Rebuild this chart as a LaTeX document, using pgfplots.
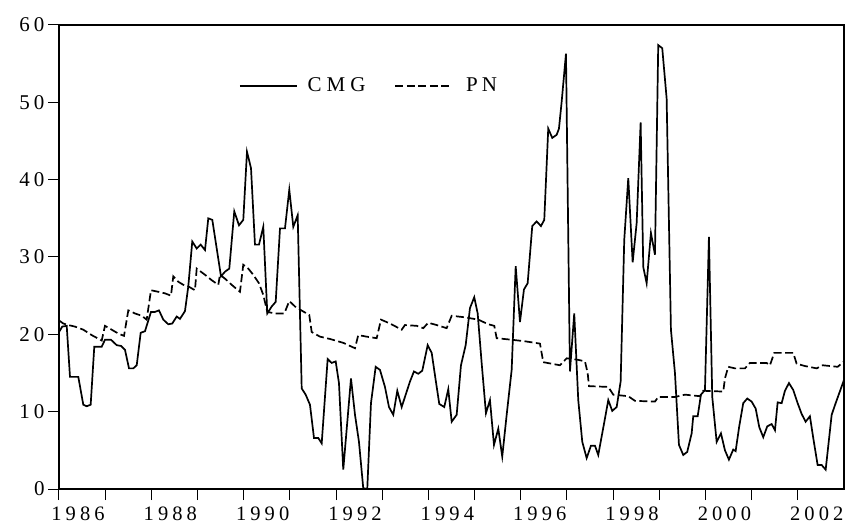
\documentclass[border=0pt]{standalone}
\usepackage{fontspec}
\setmainfont[LetterSpace=20]{Liberation Serif}
\usepackage{pgfplots}
\pgfplotsset{compat=1.18}
\newcommand{\yr}[1]{\hspace*{38bp}#1}
\begin{document}
\begin{tikzpicture}
\path[use as bounding box] (-59bp,-34bp) rectangle (786bp,489bp);
\begin{axis}[
  at={(0,0)}, anchor=south west,
  scale only axis, width=785bp, height=464bp,
  xmin=1986, xmax=2003, ymin=0, ymax=60,
  xtick={1986,...,2002},
  xticklabels={\yr{1986},,\yr{1988},,\yr{1990},,\yr{1992},,\yr{1994},,\yr{1996},,\yr{1998},,\yr{2000},,\yr{2002}},
  minor x tick num=5,
  ytick={0,10,...,60},
  xtick pos=bottom, ytick pos=left,
  tick align=outside,
  major tick length=11bp, minor tick length=5bp,
  tick style={black, line width=1bp},
  axis line style={line width=1.2bp},
  /pgf/number format/assume math mode=true,
  tick label style={font=\fontsize{21bp}{24bp}\selectfont},
  every x tick label/.append style={inner sep=0pt, font=\fontsize{20.5bp}{23bp}\selectfont},
  xticklabel shift=7bp,
  yticklabel shift=0bp,
  legend style={draw=none, fill=none, at={(0.229,0.869)}, anchor=west,
    inner sep=0pt, legend columns=2,
    font=\fontsize{21bp}{24bp}\selectfont,
    /tikz/every odd column/.append style={column sep=8bp},
    /tikz/every even column/.append style={column sep=27bp}},
  legend image code/.code={\draw[#1] (0bp,0bp) -- (57bp,0bp);},
]
\addplot[black, line width=1.7bp] coordinates {
(1986.000,20.3)(1986.071,21.0)(1986.167,21.1)(1986.238,14.5)(1986.418,14.5)
(1986.526,10.9)(1986.600,10.7)(1986.686,10.9)(1986.764,18.4)(1986.925,18.4)
(1986.996,19.3)(1987.126,19.3)(1987.249,18.6)(1987.343,18.5)(1987.429,18.0)
(1987.516,15.6)(1987.609,15.6)(1987.683,16.0)(1987.769,20.2)(1987.862,20.4)
(1987.992,22.9)(1988.079,22.9)(1988.165,23.1)(1988.259,21.9)(1988.367,21.3)
(1988.453,21.4)(1988.549,22.3)(1988.620,22.0)(1988.728,23.0)(1988.800,26.2)
(1988.886,32.0)(1988.982,31.1)(1989.068,31.6)(1989.162,30.9)(1989.233,35.0)
(1989.320,34.8)(1989.508,27.5)(1989.595,28.1)(1989.688,28.5)(1989.796,35.9)
(1989.898,34.1)(1989.991,34.8)(1990.071,43.6)(1990.158,41.5)(1990.244,31.6)
(1990.331,31.6)(1990.424,33.9)(1990.511,22.7)(1990.606,23.6)(1990.693,24.2)
(1990.786,33.7)(1990.894,33.7)(1990.987,38.7)(1991.074,33.9)(1991.169,35.4)
(1991.256,13.0)(1991.342,12.2)(1991.435,10.9)(1991.522,6.6)(1991.615,6.6)
(1991.689,5.9)(1991.818,16.8)(1991.905,16.3)(1991.992,16.5)(1992.063,13.7)
(1992.156,2.5)(1992.323,14.3)(1992.410,9.6)(1992.496,6.1)(1992.589,0.1)
(1992.676,0.0)(1992.756,11.1)(1992.858,15.8)(1992.951,15.4)(1993.059,13.2)
(1993.146,10.6)(1993.239,9.6)(1993.326,12.7)(1993.421,10.6)(1993.508,12.2)
(1993.601,13.9)(1993.687,15.2)(1993.780,14.9)(1993.867,15.3)(1993.984,18.6)
(1994.071,17.6)(1994.157,14.1)(1994.235,11.0)(1994.343,10.6)(1994.430,12.9)
(1994.504,8.7)(1994.612,9.6)(1994.705,16.0)(1994.807,18.6)(1994.900,23.4)
(1994.993,24.8)(1995.067,22.7)(1995.153,16.3)(1995.246,9.8)(1995.333,11.5)
(1995.420,5.7)(1995.513,7.8)(1995.599,4.2)(1995.695,9.6)(1995.803,15.4)
(1995.890,28.8)(1995.983,21.6)(1996.069,25.8)(1996.149,26.6)(1996.249,34.0)
(1996.344,34.6)(1996.437,34.0)(1996.509,34.8)(1996.595,46.6)(1996.682,45.4)
(1996.777,45.8)(1996.827,46.6)(1996.886,50.1)(1996.979,56.3)(1997.065,15.2)
(1997.158,22.7)(1997.245,11.5)(1997.332,6.1)(1997.427,4.0)(1997.520,5.6)
(1997.607,5.6)(1997.678,4.4)(1997.752,6.8)(1997.823,9.1)(1997.895,11.5)
(1997.981,10.1)(1998.077,10.6)(1998.163,13.9)(1998.241,32.2)(1998.328,40.2)
(1998.423,29.3)(1998.510,34.4)(1998.596,47.4)(1998.653,28.7)(1998.726,26.6)
(1998.819,33.1)(1998.906,30.3)(1998.977,57.4)(1999.064,57.0)(1999.159,50.5)
(1999.252,20.6)(1999.339,15.0)(1999.426,5.7)(1999.519,4.4)(1999.605,4.8)
(1999.701,7.2)(1999.735,9.4)(1999.831,9.4)(1999.902,12.2)(1999.989,12.8)
(2000.075,32.6)(2000.147,11.9)(2000.242,6.1)(2000.335,7.2)(2000.422,5.0)
(2000.508,3.8)(2000.601,5.1)(2000.653,4.9)(2000.731,8.1)(2000.818,11.1)
(2000.905,11.7)(2001.000,11.3)(2001.087,10.4)(2001.165,8.0)(2001.251,6.7)
(2001.338,8.1)(2001.433,8.4)(2001.505,7.6)(2001.563,11.2)(2001.650,11.1)
(2001.721,12.7)(2001.808,13.7)(2001.901,12.8)(2001.996,11.1)(2002.083,9.7)
(2002.169,8.7)(2002.262,9.4)(2002.334,6.6)(2002.429,3.1)(2002.516,3.1)
(2002.603,2.5)(2002.733,9.6)(2002.819,11.1)(2003.000,14.1)
};
\addlegendentry{C\kern5bp M\kern5bp G}
\addplot[black, line width=1.7bp, dash pattern=on 8bp off 3.5bp] coordinates {
(1986.000,21.8)(1986.093,21.4)(1986.201,21.2)(1986.346,21.0)(1986.526,20.6)
(1986.708,19.9)(1986.925,19.2)(1986.996,21.1)(1987.141,20.6)(1987.284,20.1)
(1987.408,19.8)(1987.501,23.1)(1987.646,22.7)(1987.791,22.4)(1987.899,21.9)
(1987.992,25.7)(1988.150,25.5)(1988.295,25.3)(1988.425,25.0)(1988.475,27.5)
(1988.583,26.8)(1988.692,26.4)(1988.800,26.2)(1988.945,25.7)(1988.982,28.5)
(1989.162,27.7)(1989.307,27.0)(1989.450,26.4)(1989.486,27.7)(1989.595,27.2)
(1989.740,26.4)(1989.919,25.5)(1989.991,29.0)(1990.099,28.5)(1990.207,27.7)
(1990.331,26.6)(1990.424,25.1)(1990.511,22.9)(1990.677,22.7)(1990.879,22.7)
(1990.987,24.3)(1991.147,23.4)(1991.219,23.2)(1991.420,22.5)(1991.472,20.3)
(1991.652,19.7)(1991.868,19.4)(1992.156,18.9)(1992.410,18.2)(1992.481,19.9)
(1992.663,19.7)(1992.880,19.5)(1992.973,21.9)(1993.168,21.4)(1993.421,20.6)
(1993.492,21.2)(1993.746,21.1)(1993.889,20.8)(1993.997,21.5)(1994.179,21.2)
(1994.395,20.8)(1994.504,22.4)(1994.792,22.2)(1995.080,21.9)(1995.296,21.3)
(1995.426,21.1)(1995.478,19.5)(1995.803,19.3)(1996.091,19.1)(1996.416,18.8)
(1996.487,16.4)(1996.849,16.0)(1996.994,16.9)(1997.245,16.7)(1997.390,16.5)
(1997.449,15.0)(1997.477,13.3)(1997.895,13.2)(1998.003,12.2)(1998.328,12.0)
(1998.473,11.4)(1998.906,11.3)(1998.977,11.9)(1999.339,11.9)(1999.556,12.2)
(1999.880,12.0)(1999.952,12.7)(2000.385,12.6)(2000.422,14.3)(2000.493,15.8)
(2000.638,15.6)(2000.855,15.6)(2000.963,16.3)(2001.324,16.3)(2001.396,16.0)
(2001.489,17.6)(2001.901,17.6)(2001.974,16.2)(2002.154,15.9)(2002.408,15.6)
(2002.538,16.0)(2002.863,15.8)(2003.000,16.5)
};
\addlegendentry{\hspace*{3bp}P\kern4bp N}
\end{axis}
\end{tikzpicture}
\end{document}
